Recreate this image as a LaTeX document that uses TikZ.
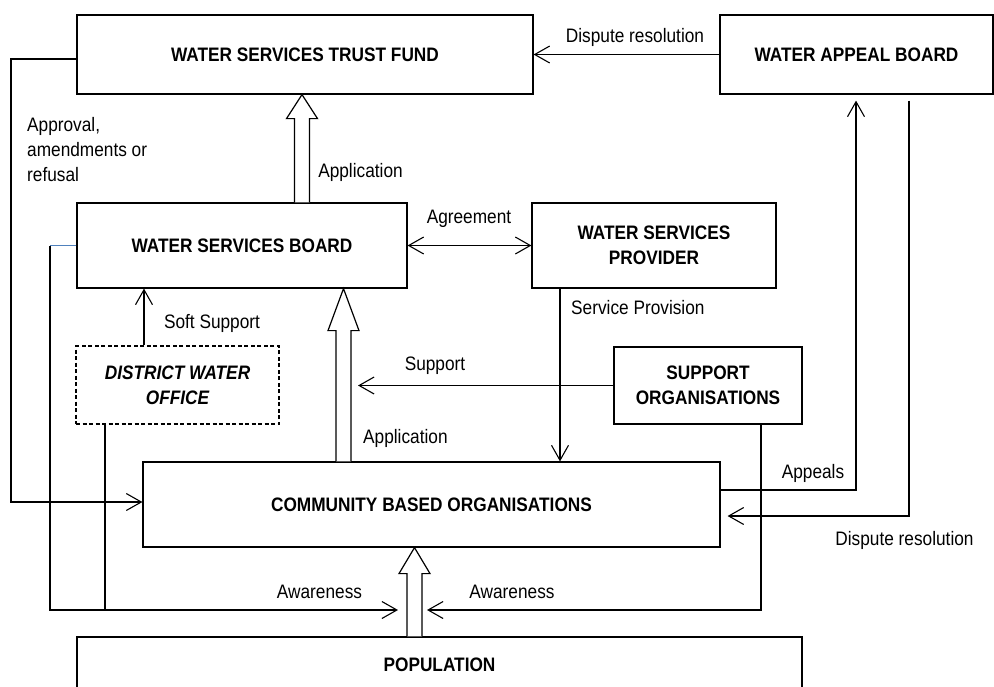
\documentclass[tikz,border=0pt]{standalone}
\usepackage{fontspec}
\setmainfont{Liberation Sans}[FakeStretch=0.885]
\usetikzlibrary{arrows.meta,calc}
\definecolor{lineblue}{HTML}{4F81BD}
\newcommand\fatarrow[3]{%
  \draw[fat] let \p1=(#1), \p2=(#2) in
    (\x1-7.5pt,\y1) -- (\x1-7.5pt,\y2-#3) -- (\x1-15.5pt,\y2-#3) -- (\x1,\y2)
    -- (\x1+15.5pt,\y2-#3) -- (\x1+7.5pt,\y2-#3) -- (\x1+7.5pt,\y1);}
\begin{document}
\begin{tikzpicture}[x=1pt,y=-1pt,
  every node/.style={font=\fontsize{19.5}{25}\selectfont, inner sep=0pt},
  box/.style={draw, line width=1.2pt, align=center, font=\fontsize{19.5}{25}\selectfont\bfseries},
  lbl/.style={anchor=base},
  con/.style={line width=1.1pt},
  conb/.style={line width=1.4pt},
  fat/.style={draw, line width=1.2pt, fill=white},
  >={Straight Barb[length=15pt,width=17pt,line width=1.1pt]}]
\useasboundingbox (0,0) rectangle (994,686);
\clip (0,0) rectangle (994,686);
% boxes
\node[box, minimum width=456pt, minimum height=79pt] (tf) at (305,54.5) {WATER SERVICES TRUST FUND};
\node[box, minimum width=273pt, minimum height=79pt] (wab) at (856.5,54.5) {WATER APPEAL BOARD};
\node[box, minimum width=330pt, minimum height=85pt] (wsb) at (242,245.5) {WATER SERVICES BOARD};
\node[box, minimum width=244pt, minimum height=85pt] (wsp) at (654,245.5) {WATER SERVICES\\PROVIDER};
\node[box, dash pattern=on 4pt off 2.5pt, minimum width=203pt, minimum height=78pt,
      font=\fontsize{19.5}{25}\selectfont\bfseries\itshape] (dwo) at (177.5,385) {DISTRICT WATER\\OFFICE};
\node[box, minimum width=188pt, minimum height=77pt] (so) at (708,385.5) {SUPPORT\\ORGANISATIONS};
\node[box, minimum width=577pt, minimum height=85pt] (cbo) at (431.5,504.5) {COMMUNITY BASED ORGANISATIONS};
\node[box, minimum width=725pt, minimum height=56pt] (pop) at (439.5,665) {POPULATION};
% helper coordinates
\coordinate (fa1) at (302,0);
\coordinate (fa2) at (343.5,0);
\coordinate (fa3) at (414.5,0);
\coordinate (ssx) at (144,0);
\coordinate (spx) at (560,0);
\coordinate (supt) at (358,385.5);
\coordinate (bl) at (50,245.5);
\coordinate (awl) at (398,610);
\coordinate (dx) at (105,0);
\coordinate (sx) at (761,0);
\coordinate (awr) at (427,610);
\coordinate (apx) at (856,0);
\coordinate (drx) at (909,0);
\coordinate (lx) at (11,59);
% fat arrows
\fatarrow{wsb.north -| fa1}{tf.south -| fa1}{24pt}
\fatarrow{cbo.north -| fa2}{wsb.south -| fa2}{42pt}
\fatarrow{pop.north -| fa3}{cbo.south -| fa3}{26pt}
% connectors
\draw[con,->] (wab.west) -- (tf.east);
\draw[conb,->] ([yshift=-4.5pt]tf.west) -- (lx) |- ([yshift=2.5pt]cbo.west);
\draw[con,<->] (wsb.east) -- (wsp.west);
\draw[con,->] (dwo.north -| ssx) -- (wsb.south -| ssx);
\draw[con,->] (wsp.south -| spx) -- (cbo.north -| spx);
\draw[con,->] (so.west) -- (supt);
\draw[con,lineblue] (wsb.west) -- (bl);
\draw[conb,->] (bl) |- (awl);
\draw[conb] (dwo.south -| dx) -- (dx |- awl);
\draw[conb,->] (so.south -| sx) |- (awr);
\draw[conb,->,shorten >=6pt] ([yshift=14.5pt]cbo.east) -| (wab.south -| apx);
\draw[conb,->,shorten <=6pt,shorten >=7pt] (wab.south -| drx) |- ([yshift=-11.5pt]cbo.east);
% labels
\node[lbl] (l1) at (635,42.5) {Dispute resolution};
\node[anchor=west, align=left] (l2) at (27,150) {Approval,\\amendments or\\refusal};
\node[lbl] (l3) at (360.5,177.5) {Application};
\node[lbl] (l4) at (469,223.5) {Agreement};
\node[lbl] (l5) at (212,328.5) {Soft Support};
\node[anchor=base west] (l6) at (571,314.5) {Service Provision};
\node[lbl] (l7) at (435,370.5) {Support};
\node[anchor=base west] (l8) at (363,443.5) {Application};
\node[lbl] (l9) at (319.5,598.5) {Awareness};
\node[lbl] (l10) at (512,598.5) {Awareness};
\node[lbl] (l11) at (813,478.5) {Appeals};
\node[lbl] (l12) at (904.5,545.5) {Dispute resolution};
\end{tikzpicture}
\end{document}
